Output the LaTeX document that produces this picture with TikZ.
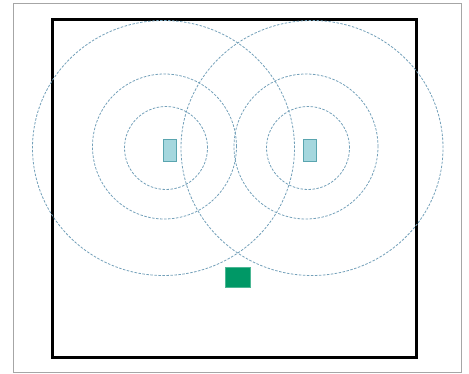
\documentclass[tikz,border=0pt]{standalone}
\usepackage{tikz}
\usetikzlibrary{calc}

\definecolor{ringcol}{RGB}{115,160,185}
\definecolor{apfill}{RGB}{165,215,222}
\definecolor{apdraw}{RGB}{90,165,175}
\definecolor{mobfill}{RGB}{0,152,102}

\begin{document}
\begin{tikzpicture}[x=1pt, y=-1pt,
    ring/.style={ringcol, line width=0.8pt, dash pattern=on 2.5pt off 1.5pt},
    ap/.style={draw=apdraw, fill=apfill, line width=0.6pt, minimum width=13pt, minimum height=22pt, inner sep=0pt},
    mobile/.style={draw=mobfill!70!white, fill=mobfill, line width=0.4pt, minimum width=25pt, minimum height=20pt, inner sep=0pt}]
  \useasboundingbox (0,0) rectangle (469,374);

  % cornice esterna
  \draw[gray!70, line width=1pt] (13,4) rectangle (461,372);

  % area
  \draw[black, line width=3pt] (52,20) rectangle (416,358);

  % centri
  \coordinate (cL) at (166,148);
  \coordinate (cR) at (308,148);

  % cerchi di copertura
  \draw[ring] (cL) ellipse [x radius=41.5pt, y radius=41.5pt];
  \draw[ring] ($(cL)+(-1.5,-1.5)$) ellipse [x radius=72pt, y radius=72.5pt];
  \draw[ring] ($(cL)+(-2.5,0)$) ellipse [x radius=131pt, y radius=127.5pt];
  \draw[ring] (cR) ellipse [x radius=41.5pt, y radius=41.5pt];
  \draw[ring] ($(cR)+(-2,-1.5)$) ellipse [x radius=72pt, y radius=72.5pt];
  \draw[ring] ($(cR)+(4,0)$) ellipse [x radius=131pt, y radius=127.5pt];

  % access point
  \node[ap] (apL) at (169.5,150) {};
  \node[ap] (apR) at (309.5,150) {};

  % terminale
  \node[mobile] (term) at (237.5,277) {};
\end{tikzpicture}
\end{document}
